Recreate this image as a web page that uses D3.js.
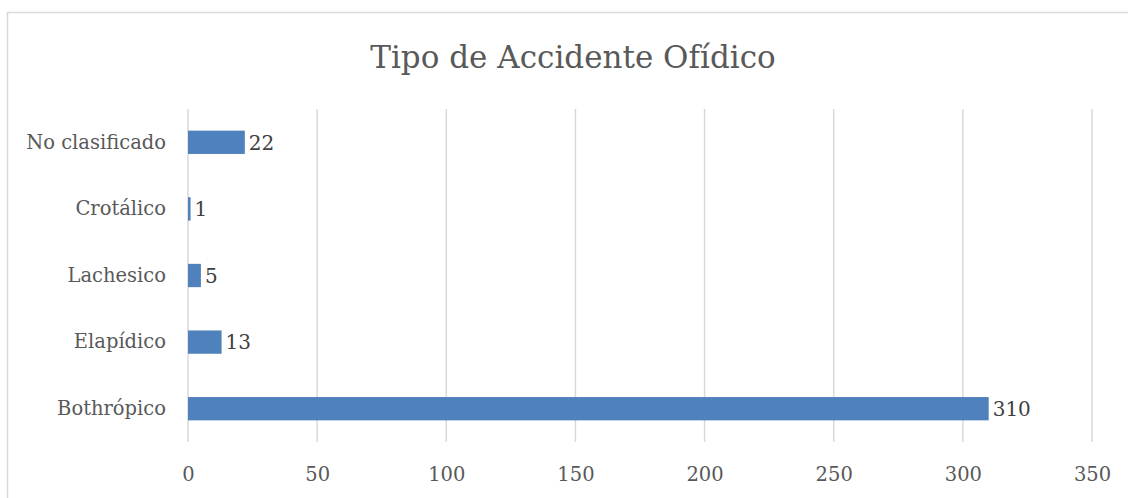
<!DOCTYPE html>
<html>
<head>
<meta charset="utf-8">
<script src="https://cdn.jsdelivr.net/npm/d3@7"></script>
<style>
  body { margin: 0; background: #fff; }
  svg { display: block; }
</style>
</head>
<body>
<svg></svg>
<script>
// datos del grafico
var categorias = ["No clasificado", "Crotálico", "Lachesico", "Elapídico", "Bothrópico"];
var casos = [22, 1, 5, 13, 310];
var ticksX = [0, 50, 100, 150, 200, 250, 300, 350];
var titulo = "Tipo de Accidente Ofídico";

var W = 1128, H = 498;
var fuente = "'DejaVu Serif', serif";

var svg = d3.select("svg")
    .attr("width", W)
    .attr("height", H);

// marco del area del grafico
svg.append("rect")
    .attr("x", 7.5).attr("y", 12.5)
    .attr("width", 1140).attr("height", 500)
    .attr("fill", "#fff")
    .attr("stroke", "#d9d9d9")
    .attr("stroke-width", 1.5);

var x = d3.scaleLinear()
    .domain([0, 350])
    .range([188, 1092]);

var y = d3.scaleBand()
    .domain(categorias)
    .range([109, 442])
    .paddingInner(0.65)
    .paddingOuter(0.325);

// lineas de cuadricula
svg.append("g")
    .selectAll("line")
    .data(ticksX).enter()
    .append("line")
    .attr("x1", function(d){ return x(d); })
    .attr("x2", function(d){ return x(d); })
    .attr("y1", 109)
    .attr("y2", 442)
    .attr("stroke", "#d9d9d9")
    .attr("stroke-width", 1.5);

// barras
svg.append("g")
    .selectAll("rect")
    .data(casos).enter()
    .append("rect")
    .attr("x", x(0))
    .attr("y", function(d, i){ return y(categorias[i]); })
    .attr("width", function(d){ return x(d) - x(0); })
    .attr("height", y.bandwidth())
    .attr("fill", "#4f81bd");

// etiquetas de valores
svg.append("g")
    .selectAll("text")
    .data(casos).enter()
    .append("text")
    .attr("x", function(d){ return x(d) + 4; })
    .attr("y", function(d, i){ return y(categorias[i]) + y.bandwidth() / 2; })
    .attr("dy", "0.36em")
    .attr("font-family", fuente)
    .attr("font-size", 20)
    .attr("fill", "#404040")
    .text(function(d){ return d; });

// eje Y (categorias)
var ejeY = d3.axisLeft(y).tickSize(0).tickPadding(22);
svg.append("g")
    .attr("transform", "translate(188,0)")
    .call(ejeY)
    .call(function(g){ g.select(".domain").remove(); })
    .selectAll("text")
    .attr("font-family", fuente)
    .attr("font-size", 19.5)
    .attr("fill", "#595959");

// eje X
var ejeX = d3.axisBottom(x).tickValues(ticksX).tickSize(0).tickPadding(25);
svg.append("g")
    .attr("transform", "translate(0,442)")
    .call(ejeX)
    .call(function(g){ g.select(".domain").remove(); })
    .selectAll("text")
    .attr("font-family", fuente)
    .attr("font-size", 19.5)
    .attr("fill", "#595959");

// titulo
svg.append("text")
    .attr("x", 573)
    .attr("y", 68)
    .attr("text-anchor", "middle")
    .attr("font-family", fuente)
    .attr("font-size", 31)
    .attr("fill", "#595959")
    .text(titulo);
</script>
</body>
</html>
